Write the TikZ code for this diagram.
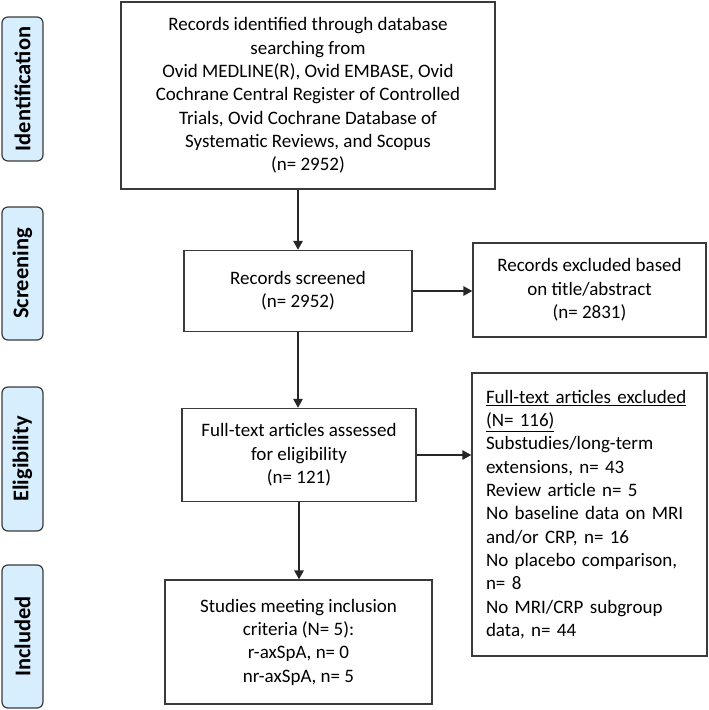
\documentclass[tikz,border=0pt]{standalone}
\usepackage{fontspec}
\setmainfont{Carlito}
\usetikzlibrary{arrows.meta}
\definecolor{phasefill}{HTML}{D6EEFE}
\definecolor{edgegray}{HTML}{3A3A3A}

\begin{document}
\begin{tikzpicture}[x=1pt, y=-1pt,
    box/.style={draw=edgegray, line width=1.4pt, align=center, inner sep=0pt, font=\fontsize{19}{23.3}\selectfont},
    phase/.style={draw=edgegray, fill=phasefill, line width=1.2pt, rounded corners=6pt, rotate=90, minimum height=41pt, inner sep=0pt, font=\bfseries\fontsize{22.5}{26}\selectfont},
    flow/.style={draw=black!85, line width=1.6pt, -{Triangle[length=9pt,width=9.5pt]}}]
        \useasboundingbox (0,0) rectangle (709,710);
        % phases on the left
        \node[phase, minimum width=144pt] (ident) at (22.5,89) {Identification};
        \node[phase, minimum width=133pt] (screen) at (22.5,273.5) {Screening};
        \node[phase, minimum width=144pt] (elig) at (22.5,459) {Eligibility};
        \node[phase, minimum width=143pt] (incl) at (22.5,636.5) {Included};
        % main flow
        \node[box, minimum width=374pt, minimum height=187pt] (found) at (308,95.5) {\raisebox{-4pt}{\parbox{374pt}{\centering Records identified through database\\searching from\\Ovid MEDLINE(R), Ovid EMBASE, Ovid\\Cochrane Central Register of Controlled\\Trials, Ovid Cochrane Database of\\Systematic Reviews, and Scopus\\(n= 2952)}}};
        \node[box, minimum width=228pt, minimum height=81pt] (screened) at (298,291) {Records screened\\(n= 2952)};
        \node[box, minimum width=233pt, minimum height=94pt] (dropped) at (589.5,290) {Records excluded based\\on title/abstract\\(n= 2831)};
        \node[box, minimum width=234pt, minimum height=93pt] (assessed) at (299,455) {Full-text articles assessed\\for eligibility\\(n= 121)};
        \node[box, minimum width=235pt, minimum height=283pt, text width=207pt, align=left] (rejected) at (589.5,514.5) {\underline{Full-text articles excluded}\\\underline{(N= 116)}\\Substudies/long-term\\extensions, n= 43\\Review article n= 5\\No baseline data on MRI\\and/or CRP, n= 16\\No placebo comparison,\\n= 8\\No MRI/CRP subgroup\\data, n= 44};
        \node[box, minimum width=267pt, minimum height=124pt] (kept) at (298.5,642) {Studies meeting inclusion\\criteria (N= 5):\\r-axSpA, n= 0\\nr-axSpA, n= 5};
        % arrows
        \draw[flow] (found.south -| screened.north) -- (screened.north);
        \draw[flow] (screened.east) -- (screened.east -| dropped.west);
        \draw[flow] (screened.south) -- (screened.south |- assessed.north);
        \draw[flow] (assessed.east) -- (assessed.east -| rejected.west);
        \draw[flow] (assessed.south) -- (assessed.south |- kept.north);
      \end{tikzpicture}
\end{document}
